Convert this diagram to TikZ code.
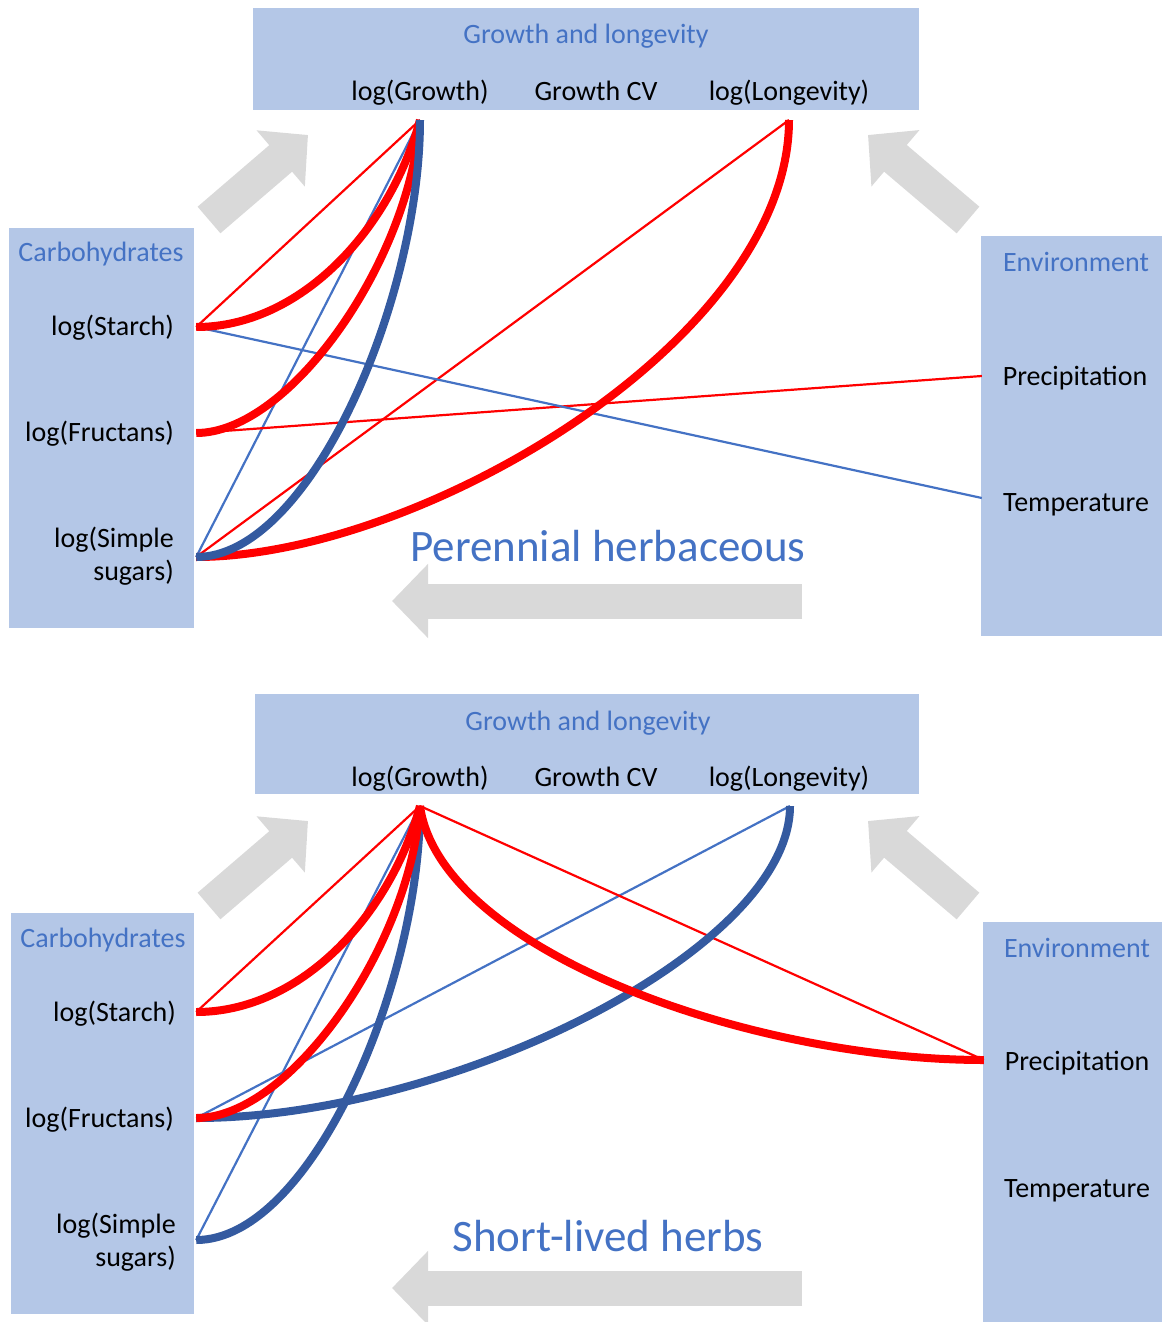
\documentclass[tikz,border=0pt]{standalone}
\usepackage{fontspec}
\setmainfont{Carlito}
\usetikzlibrary{arrows.meta, calc}
\usepackage{xcolor}
\definecolor{boxBlue}{RGB}{180, 199, 231}
\definecolor{titleBlue}{RGB}{68, 114, 196}
\definecolor{darkBlue}{RGB}{52, 90, 160}
\definecolor{arrowGray}{RGB}{217, 217, 217}

\begin{document}
\begin{tikzpicture}[
    x=1pt, y=-1pt,
    panel/.style={rectangle, fill=boxBlue, draw=none, inner sep=0pt},
    head/.style={font=\fontsize{28}{33}\selectfont, text=titleBlue, inner sep=0pt, text height=20pt, text depth=6pt},
    var/.style={font=\fontsize{28}{33}\selectfont, text=black, inner sep=0pt, text height=20pt, text depth=6pt},
    big/.style={font=\fontsize{45}{54}\selectfont, text=titleBlue, inner sep=0pt},
    flow/.style={line width=35pt, arrowGray, -{Triangle[length=36pt, width=72pt]}},
    posThin/.style={red, line width=2.2pt},
    posThick/.style={red, line width=8pt},
    negThin/.style={titleBlue, line width=2.2pt},
    negThick/.style={darkBlue, line width=8pt}
]
\useasboundingbox (0,0) rectangle (1162,1322);

% ---------- Perennial herbaceous ----------
\node[panel, minimum width=666pt, minimum height=102pt] (growthBox1) at (586,59) {};
\node[panel, minimum width=185pt, minimum height=400pt] (carbBox1) at (101.5,428) {};
\node[panel, minimum width=181pt, minimum height=400pt] (envBox1) at (1071.5,436) {};

\node[head] (growthHead1) at (586,37) {Growth and longevity};
\node[var] (lgrowth1) at (420,93) {log(Growth)};
\node[var] (growthCV1) at (596,93) {Growth CV};
\node[var] (llong1) at (789,93) {log(Longevity)};

\node[head] (carbHead1) at (101,254) {Carbohydrates};
\node[var, anchor=east] (starch1) at (174,328) {log(Starch)};
\node[var, anchor=east] (fruct1) at (174,434) {log(Fructans)};
\node[var, anchor=east, align=right] (sugar1) at (174,573) {log(Simple\\sugars)};

\node[head] (envHead1) at (1076,264) {Environment};
\node[var] (precip1) at (1075,378) {Precipitation};
\node[var] (temp1) at (1076,504) {Temperature};

\node[big] (title1) at (608,546) {Perennial herbaceous};

% big grey arrows
\draw[flow] (209,220) -- (308,135);
\draw[flow] (968,220) -- (868,135);
\draw[flow] (802,601) -- (392,601);

% line ends
\coordinate (gr1) at ($(lgrowth1)+(0,27)$);
\coordinate (lo1) at ($(llong1)+(0,27)$);
\coordinate (st1) at ($(carbBox1.east |- starch1)+(2,-1)$);
\coordinate (fr1) at ($(carbBox1.east |- fruct1)+(2,-1)$);
\coordinate (su1) at ($(carbBox1.east |- sugar1)+(2,-16)$);
\coordinate (pr1) at ($(envBox1.west |- precip1)+(1,-2)$);
\coordinate (te1) at ($(envBox1.west |- temp1)+(1,-6)$);

\draw[posThin] (st1) -- (gr1);
\draw[negThin] (su1) -- (gr1);
\draw[posThin] (su1) -- (lo1);
\draw[posThin] (fr1) -- (pr1);
\draw[negThin] (st1) -- (te1);

\draw[posThick] (st1) .. controls +(104,0) and +(-30,110) .. (gr1);
\draw[posThick] (fr1) .. controls +(94,0) and +(-10,140) .. (gr1);
\draw[posThick] (su1) .. controls +(224,0) and +(0,220) .. (lo1);
\draw[negThick] (su1) .. controls +(114,0) and +(0,180) .. (gr1);

% ---------- Short-lived herbs ----------
\node[panel, minimum width=664pt, minimum height=100pt] (growthBox2) at (587,744) {};
\node[panel, minimum width=183pt, minimum height=401pt] (carbBox2) at (102.5,1113.5) {};
\node[panel, minimum width=179pt, minimum height=400pt] (envBox2) at (1072.5,1122) {};

\node[head] (growthHead2) at (588,723) {Growth and longevity};
\node[var] (lgrowth2) at (420,779) {log(Growth)};
\node[var] (growthCV2) at (596,779) {Growth CV};
\node[var] (llong2) at (789,779) {log(Longevity)};

\node[head] (carbHead2) at (103,940) {Carbohydrates};
\node[var, anchor=east] (starch2) at (176,1014) {log(Starch)};
\node[var, anchor=east] (fruct2) at (174,1120) {log(Fructans)};
\node[var, anchor=east, align=right] (sugar2) at (176,1259) {log(Simple\\sugars)};

\node[head] (envHead2) at (1077,950) {Environment};
\node[var] (precip2) at (1077,1063) {Precipitation};
\node[var] (temp2) at (1077,1190) {Temperature};

\node[big] (title2) at (608,1236) {Short-lived herbs};

% big grey arrows
\draw[flow] (209,906) -- (308,821);
\draw[flow] (968,906) -- (868,821);
\draw[flow] (802,1288) -- (392,1288);

% line ends
\coordinate (gr2) at ($(lgrowth2)+(0,27)$);
\coordinate (lo2) at ($(llong2)+(1,27)$);
\coordinate (st2) at ($(carbBox2.east |- starch2)+(2,-2)$);
\coordinate (fr2) at ($(carbBox2.east |- fruct2)+(2,-2)$);
\coordinate (su2) at ($(carbBox2.east |- sugar2)+(2,-19)$);
\coordinate (pr2) at ($(envBox2.west |- precip2)+(1,-3)$);

\draw[posThin] (st2) -- (gr2);
\draw[negThin] (su2) -- (gr2);
\draw[negThin] (fr2) -- (lo2);
\draw[posThin] (gr2) -- (pr2);

\draw[negThick] (fr2) .. controls +(254,0) and +(0,144) .. (lo2);
\draw[negThick] (su2) .. controls +(114,0) and +(0,180) .. (gr2);
\draw[posThick] (gr2) .. controls +(20,144) and +(-234,0) .. (pr2);
\draw[posThick] (st2) .. controls +(104,0) and +(-30,110) .. (gr2);
\draw[posThick] (fr2) .. controls +(94,0) and +(-10,140) .. (gr2);

\end{tikzpicture}
\end{document}
